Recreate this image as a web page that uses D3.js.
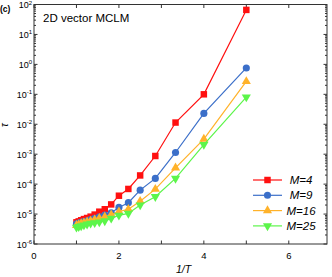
<!DOCTYPE html>
<html>
<head>
<meta charset="utf-8">
<script src="https://cdn.jsdelivr.net/npm/d3@7"></script>
<style>
  body { margin: 0; background: #fff; }
  text { font-family: "Liberation Sans", Arial, sans-serif; }
</style>
</head>
<body>
<script>
// 1/T for T = 1.0, 0.95, ... 0.2
const invT = [1, 1.053, 1.111, 1.176, 1.25, 1.333, 1.429, 1.538, 1.667, 1.818, 2.0, 2.222, 2.5, 2.857, 3.333, 4, 5];

const tauM4 = [5.3e-6, 5.7e-6, 6.2e-6, 6.8e-6, 7.4e-6, 8.2e-6, 9.6e-6, 1.2e-5, 1.45e-5, 2.1e-5, 4.1e-5, 6.9e-5, 1.95e-4, 8.7e-4, 1.14e-2, 0.1, 66];
const tauM9 = [4.7e-6, 5.0e-6, 5.3e-6, 5.6e-6, 6.0e-6, 6.5e-6, 7.2e-6, 8.1e-6, 9.2e-6, 1.1e-5, 1.67e-5, 2.4e-5, 6.3e-5, 1.55e-4, 1.14e-3, 0.023, 0.76];
const tauM16 = [4.2e-6, 4.5e-6, 4.8e-6, 5.1e-6, 5.5e-6, 5.9e-6, 6.5e-6, 7.2e-6, 8.1e-6, 9.5e-6, 1.2e-5, 1.45e-5, 2.7e-5, 6.8e-5, 3.5e-4, 3.2e-3, 0.27];
const tauM25 = [3.6e-6, 3.8e-6, 4.0e-6, 4.3e-6, 4.6e-6, 4.9e-6, 5.1e-6, 5.4e-6, 5.9e-6, 7.2e-6, 9.1e-6, 1.05e-5, 2.0e-5, 3.8e-5, 1.55e-4, 2.1e-3, 0.081];

const seriesNames = ["M=4", "M=9", "M=16", "M=25"];
const xTicks = [0, 2, 4, 6];
const yExps = [-6, -5, -4, -3, -2, -1, 0, 1, 2];

const series = [
  {name: seriesNames[0], vals: tauM4, color: "#ff1010", sym: d3.symbolSquare, size: 42},
  {name: seriesNames[1], vals: tauM9, color: "#3b6fc9", sym: d3.symbolCircle, size: 40},
  {name: seriesNames[2], vals: tauM16, color: "#ffb22a", sym: d3.symbolTriangle, size: 36},
  {name: seriesNames[3], vals: tauM25, color: "#5cf54a", sym: d3.symbolTriangle, size: 36, flip: true}
];

const W = 332, H = 277;
const L = 34, R = 327, T = 4.5, B = 244;

const svg = d3.select("body").append("svg")
    .attr("width", W)
    .attr("height", H);

const x = d3.scaleLinear().domain([0, 6.9]).range([L, R]);
const y = d3.scaleLog().domain([1e-6, 100]).range([B, T]);

// ticks, inward, on all four sides
const tk = svg.append("g").attr("stroke", "#333").attr("stroke-width", 1);
d3.range(0, 7).forEach(v => {
  tk.append("line").attr("x1", x(v)).attr("x2", x(v)).attr("y1", B).attr("y2", B - 3.5);
  tk.append("line").attr("x1", x(v)).attr("x2", x(v)).attr("y1", T).attr("y2", T + 3.5);
});
yExps.slice(0, -1).forEach(e => {
  d3.range(1, 10).forEach(m => {
    const yy = y(m * Math.pow(10, e));
    const len = m === 1 ? 3.5 : 2;
    tk.append("line").attr("x1", L).attr("x2", L + len).attr("y1", yy).attr("y2", yy);
    tk.append("line").attr("x1", R).attr("x2", R - len).attr("y1", yy).attr("y2", yy);
  });
});

svg.append("rect")
    .attr("x", L).attr("y", T)
    .attr("width", R - L).attr("height", B - T)
    .attr("fill", "none")
    .attr("stroke", "#333")
    .attr("stroke-width", 1);

// x tick labels
svg.append("g").selectAll("text")
  .data(xTicks)
  .enter().append("text")
    .attr("x", d => x(d))
    .attr("y", B + 15)
    .attr("text-anchor", "middle")
    .attr("font-size", 9.5)
    .text(d => d);

// y tick labels 10^n
const yl = svg.append("g").selectAll("text")
  .data(yExps)
  .enter().append("text")
    .attr("x", L - 2)
    .attr("y", d => y(Math.pow(10, d)) + 3.5)
    .attr("text-anchor", "end")
    .attr("font-size", 9);
yl.append("tspan").text("10");
yl.append("tspan").attr("dy", -3.5).attr("font-size", 6).text(d => d);

// axis labels
svg.append("text")
    .attr("x", (L + R) / 2 + 3)
    .attr("y", 273)
    .attr("text-anchor", "middle")
    .attr("font-size", 10.5)
    .attr("font-style", "italic")
    .text("1/T");

svg.append("text")
    .attr("transform", "translate(8,125) rotate(-90)")
    .attr("text-anchor", "middle")
    .attr("font-size", 10)
    .attr("font-style", "italic")
    .text("τ");

svg.append("text")
    .attr("x", 0).attr("y", 12)
    .attr("font-size", 8.5)
    .attr("font-weight", "bold")
    .text("(c)");

svg.append("text")
    .attr("x", 43).attr("y", 22)
    .attr("font-size", 11.5)
    .text("2D vector MCLM");

// lines + markers
const line = d3.line()
    .x(d => x(d[0]))
    .y(d => y(d[1]));

series.forEach(s => {
  const pts = invT.map((v, i) => [v, s.vals[i]]);
  svg.append("path")
      .datum(pts)
      .attr("fill", "none")
      .attr("stroke", s.color)
      .attr("stroke-width", 1.2)
      .attr("d", line);
  svg.append("g").selectAll("path")
    .data(pts)
    .enter().append("path")
      .attr("transform", d => `translate(${x(d[0])},${y(d[1])})` + (s.flip ? " rotate(180)" : ""))
      .attr("d", d3.symbol().type(s.sym).size(s.size))
      .attr("fill", s.color);
});

// legend
const lg = svg.append("g");
series.forEach((s, i) => {
  const yy = 180 + i * 15.3;
  lg.append("line")
      .attr("x1", 253).attr("x2", 282)
      .attr("y1", yy).attr("y2", yy)
      .attr("stroke", s.color)
      .attr("stroke-width", 1.2);
  lg.append("path")
      .attr("transform", `translate(267.5,${yy})` + (s.flip ? " rotate(180)" : ""))
      .attr("d", d3.symbol().type(s.sym).size(s.size))
      .attr("fill", s.color);
  lg.append("text")
      .attr("x", 301).attr("y", yy + 4)
      .attr("text-anchor", "middle")
      .attr("font-size", 11.5)
      .attr("font-style", "italic")
      .text(s.name);
});
</script>
</body>
</html>
